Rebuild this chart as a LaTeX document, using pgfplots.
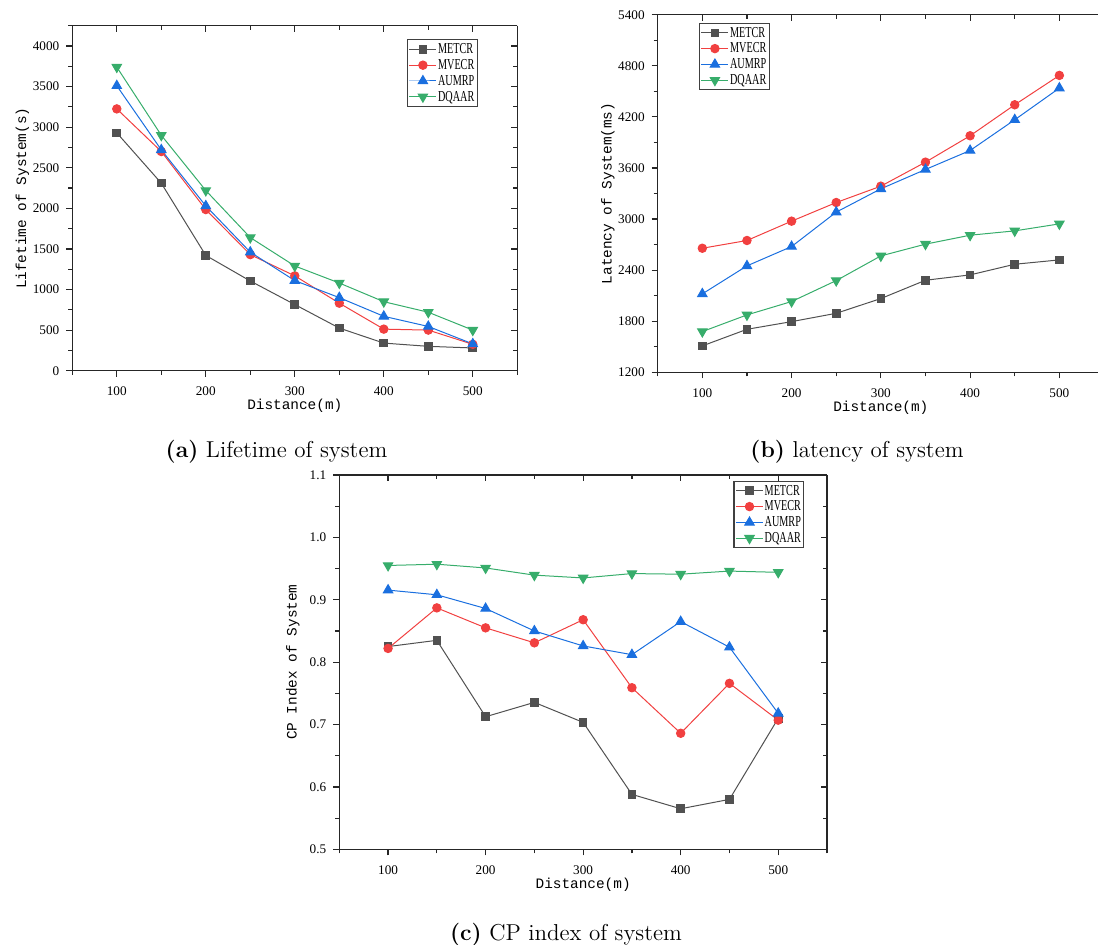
\documentclass[border=0pt]{standalone}
\usepackage{fontspec}
\usepackage{graphicx}
\usepackage{pgfplots}
\pgfplotsset{compat=1.18}
\newfontfamily\serifnum{Liberation Serif}
\newfontfamily\monolab{Liberation Mono}
\definecolor{cA}{HTML}{515151}
\definecolor{cB}{HTML}{F14040}
\definecolor{cC}{HTML}{1A6FDF}
\definecolor{cD}{HTML}{37AD6B}
\newcommand\tlf{\fontsize{6.6}{7}\selectfont\serifnum}
\newcommand\alf{\fontsize{7.2}{8}\selectfont\monolab}
\newcommand\lgf{\fontsize{7.6}{8}\selectfont\serifnum}
\newcommand\lgt[1]{\scalebox{0.67}[1]{#1}}
\pgfplotsset{
  panelbase/.style={
    scale only axis, anchor=south west,
    axis line style={-, draw=black!85, line width=0.75pt},
    major tick length=3pt, minor tick length=2pt,
    every tick/.style={draw=black!85, line width=0.6pt},
    xmin=50, xmax=550, xtick={100,200,300,400,500},
    minor xtick={50,150,250,350,450,550},
    scaled ticks=false,
    /pgf/number format/1000 sep={},
    /pgf/number format/assume math mode=true,
    ticklabel style={font=\tlf},
  },
  panel/.style={panelbase,
    axis x line*=bottom, axis y line*=left, tick align=outside,
    every axis x label/.style={at={(axis description cs:0.5,0)}, anchor=center, yshift=-17.5pt, font=\alf},
    xlabel={Distance(m)},
    xticklabel style={yshift=-1.5pt},
    legend cell align=left,
    legend style={anchor=north west, draw=black!75, line width=0.6pt, inner sep=0.8pt,
      font=\lgf, row sep=0pt,
      nodes={inner sep=0.6pt, text height=5.5pt, text depth=1.2pt}},
    legend image code/.code={\draw[mark repeat=2,mark phase=2] plot coordinates {(0pt,0pt) (6.75pt,0pt) (13.5pt,0pt)};},
  },
  frame/.style={panelbase,
    axis x line*=top, axis y line*=right, tick align=inside,
    xticklabels={}, yticklabels={},
  },
  sA/.style={color=cA, line width=0.5pt, mark=square*, mark size=1.9pt, mark options={fill=cA, draw=cA}},
  sB/.style={color=cB, line width=0.5pt, mark=*, mark size=2.1pt, mark options={fill=cB, draw=cB}},
  sC/.style={color=cC, line width=0.5pt, mark=triangle*, mark size=2.7pt, mark options={fill=cC, draw=cC}},
  sD/.style={color=cD, line width=0.5pt, mark=triangle*, mark size=2.7pt, mark options={fill=cD, draw=cD, rotate=180}},
}
\begin{document}
\begin{tikzpicture}
\path[use as bounding box] (0pt,0pt) rectangle (549pt,-472.5pt);
\clip (0pt,0pt) rectangle (549pt,-472.5pt);
% ---------- (a) ----------
\begin{axis}[panel, at={(36.15pt,-185.35pt)}, width=222.5pt, height=172.5pt,
  ymin=0, ymax=4250, ytick={0,500,...,4000}, minor ytick={250,750,...,4250},
  every axis y label/.style={at={(axis description cs:0,0.5)}, rotate=90, anchor=center, yshift=24.9pt, font=\alf},
  ylabel={Lifetime of System(s)},
  legend style={at={(0.7515,0.9606)}}]
\addplot[sA] coordinates {(100,2930) (150,2310) (200,1420) (250,1105) (300,815) (350,525) (400,340) (450,300) (500,280)};
\addlegendentry{\lgt{METCR}}
\addplot[sB] coordinates {(100,3225) (150,2700) (200,1985) (250,1430) (300,1168) (350,832) (400,512) (450,500) (500,325)};
\addlegendentry{\lgt{MVECR}}
\addplot[sC] coordinates {(100,3510) (150,2720) (200,2030) (250,1460) (300,1110) (350,900) (400,670) (450,545) (500,330)};
\addlegendentry{\lgt{AUMRP}}
\addplot[sD] coordinates {(100,3740) (150,2900) (200,2220) (250,1640) (300,1290) (350,1080) (400,850) (450,720) (500,500)};
\addlegendentry{\lgt{DQAAR}}
\end{axis}
\begin{axis}[frame, at={(36.15pt,-185.35pt)}, width=222.5pt, height=172.5pt,
  ymin=0, ymax=4250, ytick={0,500,...,4000}, minor ytick={250,750,...,4250}]
\end{axis}
% ---------- (b) ----------
\begin{axis}[panel, at={(328.85pt,-186.15pt)}, width=223.15pt, height=178.8pt,
  ymin=1200, ymax=5400, ytick={1200,1800,...,5400}, minor ytick={1500,2100,...,5100},
  every axis y label/.style={at={(axis description cs:0,0.5)}, rotate=90, anchor=center, yshift=24.9pt, font=\alf},
  ylabel={Latency of System(ms)},
  legend style={at={(0.0919,0.9776)}}]
\addplot[sA] coordinates {(100,1510) (150,1705) (200,1795) (250,1893) (300,2066) (350,2281) (400,2344) (450,2469) (500,2520)};
\addlegendentry{\lgt{METCR}}
\addplot[sB] coordinates {(100,2657) (150,2748) (200,2975) (250,3194) (300,3386) (350,3668) (400,3978) (450,4342) (500,4687)};
\addlegendentry{\lgt{MVECR}}
\addplot[sC] coordinates {(100,2121) (150,2450) (200,2677) (250,3081) (300,3355) (350,3582) (400,3805) (450,4166) (500,4538)};
\addlegendentry{\lgt{AUMRP}}
\addplot[sD] coordinates {(100,1678) (150,1874) (200,2031) (250,2277) (300,2567) (350,2705) (400,2810) (450,2861) (500,2943)};
\addlegendentry{\lgt{DQAAR}}
\end{axis}
\begin{axis}[frame, at={(328.85pt,-186.15pt)}, width=223.15pt, height=178.8pt,
  ymin=1200, ymax=5400, ytick={1200,1800,...,5400}, minor ytick={1500,2100,...,5100}]
\end{axis}
% ---------- (c) ----------
\begin{axis}[panel, at={(169.65pt,-424.65pt)}, width=243.85pt, height=187.15pt,
  ymin=0.5, ymax=1.1, ytick={0.5,0.6,0.7,0.8,0.9,1.0,1.1}, minor ytick={0.55,0.65,0.75,0.85,0.95,1.05},
  yticklabel style={/pgf/number format/fixed, /pgf/number format/fixed zerofill, /pgf/number format/precision=1},
  every axis y label/.style={at={(axis description cs:0,0.5)}, rotate=90, anchor=center, yshift=23.2pt, font=\alf},
  ylabel={CP Index of System},
  legend style={at={(0.8079,0.9848)}}]
\addplot[sA] coordinates {(100,0.825) (150,0.835) (200,0.7125) (250,0.7355) (300,0.7035) (350,0.588) (400,0.565) (450,0.580) (500,0.710)};
\addlegendentry{\lgt{METCR}}
\addplot[sB] coordinates {(100,0.822) (150,0.887) (200,0.855) (250,0.831) (300,0.868) (350,0.759) (400,0.686) (450,0.766) (500,0.707)};
\addlegendentry{\lgt{MVECR}}
\addplot[sC] coordinates {(100,0.9155) (150,0.908) (200,0.886) (250,0.850) (300,0.826) (350,0.812) (400,0.865) (450,0.824) (500,0.718)};
\addlegendentry{\lgt{AUMRP}}
\addplot[sD] coordinates {(100,0.955) (150,0.957) (200,0.951) (250,0.9395) (300,0.935) (350,0.942) (400,0.941) (450,0.946) (500,0.944)};
\addlegendentry{\lgt{DQAAR}}
\end{axis}
\begin{axis}[frame, at={(169.65pt,-424.65pt)}, width=243.85pt, height=187.15pt,
  ymin=0.5, ymax=1.1, ytick={0.5,0.6,0.7,0.8,0.9,1.0,1.1}, minor ytick={0.55,0.65,0.75,0.85,0.95,1.05}]
\end{axis}
% ---------- captions ----------
\node[font=\fontsize{11.5}{13}\selectfont] at (138.25pt,-225.85pt) {\textbf{(a)} Lifetime of system};
\node[font=\fontsize{11.5}{13}\selectfont] at (428.5pt,-225.85pt) {\textbf{(b)} latency of system};
\node[font=\fontsize{11.5}{13}\selectfont] at (283pt,-467.5pt) {\textbf{(c)} CP index of system};
\end{tikzpicture}
\end{document}
